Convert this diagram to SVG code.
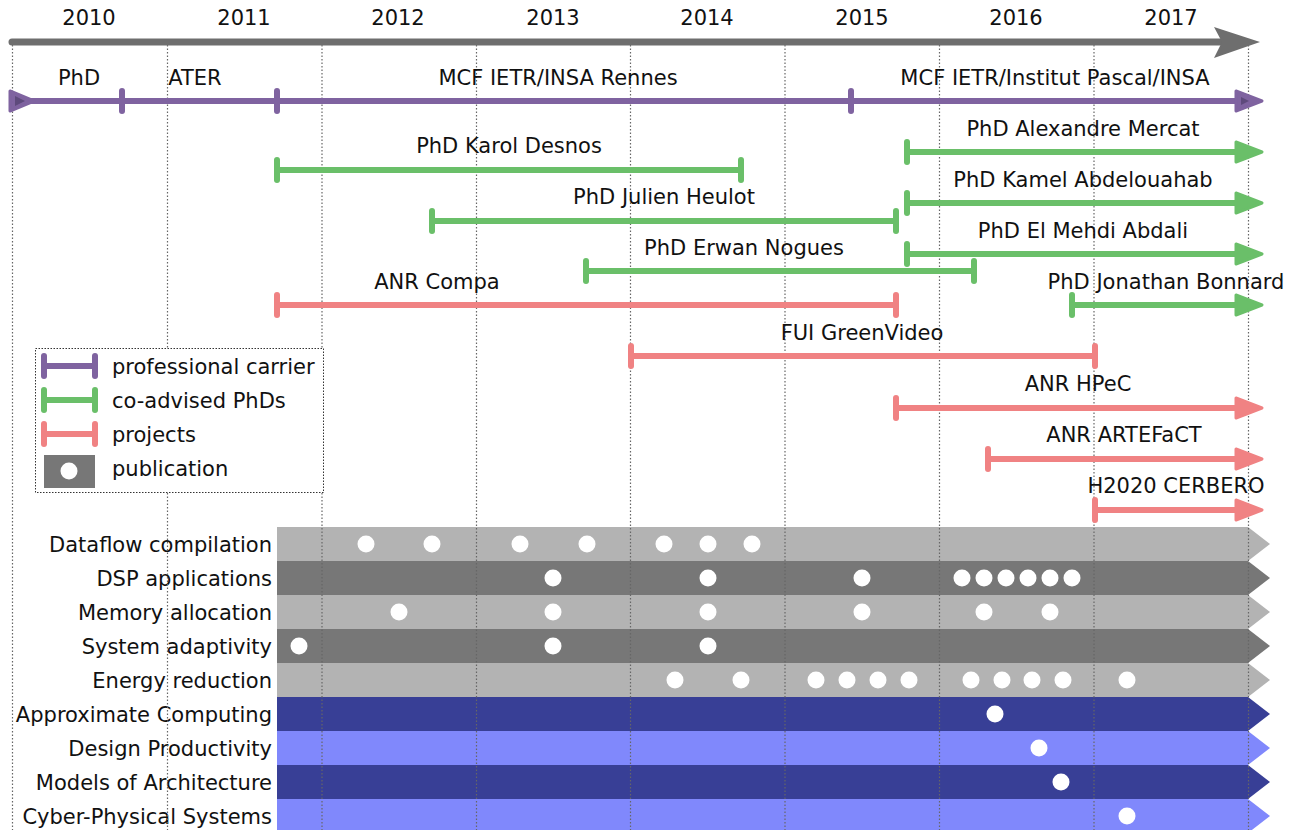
<svg xmlns="http://www.w3.org/2000/svg" xmlns:xlink="http://www.w3.org/1999/xlink" width="1297" height="830" viewBox="0 0 1297 830">
<style>
text{font-family:"DejaVu Sans","Liberation Sans",sans-serif;font-size:21px;fill:#111}
.c{text-anchor:middle}
.r{text-anchor:end}
.grid{stroke:#666;stroke-width:1.2;stroke-dasharray:1.5 2}
.pu{stroke:#7f63a0;fill:#7f63a0}
.gr{stroke:#6abf69;fill:#6abf69}
.rd{stroke:#f08283;fill:#f08283}
.bar{stroke-width:6;stroke-linecap:round;fill:none}
.tk{stroke-width:6;stroke-linecap:round}
.ah{stroke-width:3;stroke-linejoin:round}
.dot{fill:#fff}
.b1{fill:#b3b3b3}.b2{fill:#777}.b3{fill:#383f96}.b4{fill:#8088fc}
</style>
<defs>
<path id="ah" d="M-26,-10 L0,0 L-26,10 Z"/>
<path id="tick" d="M0,-10 L0,10"/>
<path id="band" d="M0,0 H971 L993,17 L971,34 H0 Z"/>
<circle id="d" r="8.5"/>
</defs>
<rect width="1297" height="830" fill="#fff"/>

<g id="bands">
<use href="#band" x="277" y="527" class="b1"/>
<use href="#band" x="277" y="561" class="b2"/>
<use href="#band" x="277" y="595" class="b1"/>
<use href="#band" x="277" y="629" class="b2"/>
<use href="#band" x="277" y="663" class="b1"/>
<use href="#band" x="277" y="697" class="b3"/>
<use href="#band" x="277" y="731" class="b4"/>
<use href="#band" x="277" y="765" class="b3"/>
<use href="#band" x="277" y="799" class="b4"/>
</g>

<g id="band-labels">
<text x="272" y="552" class="r">Dataflow compilation</text>
<text x="272" y="586" class="r">DSP applications</text>
<text x="272" y="620" class="r">Memory allocation</text>
<text x="272" y="654" class="r">System adaptivity</text>
<text x="272" y="688" class="r">Energy reduction</text>
<text x="272" y="722" class="r">Approximate Computing</text>
<text x="272" y="756" class="r">Design Productivity</text>
<text x="272" y="790" class="r">Models of Architecture</text>
<text x="272" y="824" class="r">Cyber-Physical Systems</text>
</g>

<g id="publications" class="dot">
<use href="#d" x="366" y="544"/><use href="#d" x="432" y="544"/><use href="#d" x="520" y="544"/><use href="#d" x="587" y="544"/><use href="#d" x="664" y="544"/><use href="#d" x="708" y="544"/><use href="#d" x="752" y="544"/>
<use href="#d" x="553" y="578"/><use href="#d" x="708" y="578"/><use href="#d" x="862" y="578"/><use href="#d" x="962" y="578"/><use href="#d" x="984" y="578"/><use href="#d" x="1006" y="578"/><use href="#d" x="1028" y="578"/><use href="#d" x="1050" y="578"/><use href="#d" x="1072" y="578"/>
<use href="#d" x="399" y="612"/><use href="#d" x="553" y="612"/><use href="#d" x="708" y="612"/><use href="#d" x="862" y="612"/><use href="#d" x="984" y="612"/><use href="#d" x="1050" y="612"/>
<use href="#d" x="299" y="646"/><use href="#d" x="553" y="646"/><use href="#d" x="708" y="646"/>
<use href="#d" x="675" y="680"/><use href="#d" x="741" y="680"/><use href="#d" x="816" y="680"/><use href="#d" x="847" y="680"/><use href="#d" x="878" y="680"/><use href="#d" x="909" y="680"/><use href="#d" x="971" y="680"/><use href="#d" x="1002" y="680"/><use href="#d" x="1032" y="680"/><use href="#d" x="1063" y="680"/><use href="#d" x="1127" y="680"/>
<use href="#d" x="995" y="714"/>
<use href="#d" x="1039" y="748"/>
<use href="#d" x="1061" y="782"/>
<use href="#d" x="1127" y="816"/>
</g>

<g id="grid">
<line x1="12.5" y1="45" x2="12.5" y2="830" class="grid"/>
<line x1="167.5" y1="45" x2="167.5" y2="830" class="grid"/>
<line x1="322" y1="45" x2="322" y2="830" class="grid"/>
<line x1="476.5" y1="45" x2="476.5" y2="830" class="grid"/>
<line x1="630.5" y1="45" x2="630.5" y2="830" class="grid"/>
<line x1="785" y1="45" x2="785" y2="830" class="grid"/>
<line x1="939.5" y1="45" x2="939.5" y2="830" class="grid"/>
<line x1="1094" y1="45" x2="1094" y2="830" class="grid"/>
<line x1="1248.5" y1="45" x2="1248.5" y2="830" class="grid"/>
</g>

<g id="axis">
<line x1="12" y1="42" x2="1222" y2="42" stroke="#6e6e6e" stroke-width="7" stroke-linecap="round"/>
<path d="M1214,27 L1260,42 L1214,58 L1222,42 Z" fill="#6e6e6e"/>
<text x="89" y="25" class="c">2010</text>
<text x="244" y="25" class="c">2011</text>
<text x="398" y="25" class="c">2012</text>
<text x="553" y="25" class="c">2013</text>
<text x="707" y="25" class="c">2014</text>
<text x="862" y="25" class="c">2015</text>
<text x="1016" y="25" class="c">2016</text>
<text x="1171" y="25" class="c">2017</text>
</g>

<g id="career">
<line x1="20" y1="101" x2="1240" y2="101" class="pu bar"/>
<path d="M10,91 L34,101 L10,111 Z" class="pu ah"/>
<path d="M15,96 L25,101 L15,106 Z" fill="#5e4a7c"/>
<use href="#tick" x="122" y="101" class="pu tk"/>
<use href="#tick" x="277" y="101" class="pu tk"/>
<use href="#tick" x="851" y="101" class="pu tk"/>
<use href="#ah" x="1262" y="101" class="pu ah"/>
<path d="M1241,97 L1249,101 L1241,105 Z" fill="#5e4a7c"/>
<text x="79" y="85" class="c">PhD</text>
<text x="195" y="85" class="c">ATER</text>
<text x="558" y="85" class="c">MCF IETR/INSA Rennes</text>
<text x="1055" y="85" class="c">MCF IETR/Institut Pascal/INSA</text>
</g>

<g id="phd-desnos">
<line x1="277" y1="170" x2="741" y2="170" class="gr bar"/>
<use href="#tick" x="277" y="170" class="gr tk"/><use href="#tick" x="741" y="170" class="gr tk"/>
<text x="509" y="153" class="c">PhD Karol Desnos</text>
</g>
<g id="phd-heulot">
<line x1="432" y1="221" x2="896" y2="221" class="gr bar"/>
<use href="#tick" x="432" y="221" class="gr tk"/><use href="#tick" x="896" y="221" class="gr tk"/>
<text x="664" y="204" class="c">PhD Julien Heulot</text>
</g>
<g id="phd-nogues">
<line x1="586" y1="271" x2="974" y2="271" class="gr bar"/>
<use href="#tick" x="586" y="271" class="gr tk"/><use href="#tick" x="974" y="271" class="gr tk"/>
<text x="744" y="255" class="c">PhD Erwan Nogues</text>
</g>
<g id="phd-mercat">
<line x1="907" y1="152" x2="1240" y2="152" class="gr bar"/>
<use href="#tick" x="907" y="152" class="gr tk"/><use href="#ah" x="1262" y="152" class="gr ah"/>
<text x="1083" y="136" class="c">PhD Alexandre Mercat</text>
</g>
<g id="phd-abdelouahab">
<line x1="907" y1="203" x2="1240" y2="203" class="gr bar"/>
<use href="#tick" x="907" y="203" class="gr tk"/><use href="#ah" x="1262" y="203" class="gr ah"/>
<text x="1083" y="187" class="c">PhD Kamel Abdelouahab</text>
</g>
<g id="phd-abdali">
<line x1="907" y1="254" x2="1240" y2="254" class="gr bar"/>
<use href="#tick" x="907" y="254" class="gr tk"/><use href="#ah" x="1262" y="254" class="gr ah"/>
<text x="1083" y="238" class="c">PhD El Mehdi Abdali</text>
</g>
<g id="phd-bonnard">
<line x1="1072" y1="305" x2="1240" y2="305" class="gr bar"/>
<use href="#tick" x="1072" y="305" class="gr tk"/><use href="#ah" x="1262" y="305" class="gr ah"/>
<text x="1166" y="289" class="c">PhD Jonathan Bonnard</text>
</g>

<g id="anr-compa">
<line x1="277" y1="305" x2="896" y2="305" class="rd bar"/>
<use href="#tick" x="277" y="305" class="rd tk"/><use href="#tick" x="896" y="305" class="rd tk"/>
<text x="437" y="289" class="c">ANR Compa</text>
</g>
<g id="fui-greenvideo">
<line x1="631" y1="356" x2="1095" y2="356" class="rd bar"/>
<use href="#tick" x="631" y="356" class="rd tk"/><use href="#tick" x="1095" y="356" class="rd tk"/>
<text x="862" y="340" class="c">FUI GreenVideo</text>
</g>
<g id="anr-hpec">
<line x1="896" y1="408" x2="1240" y2="408" class="rd bar"/>
<use href="#tick" x="896" y="408" class="rd tk"/><use href="#ah" x="1262" y="408" class="rd ah"/>
<text x="1078" y="391" class="c">ANR HPeC</text>
</g>
<g id="anr-artefact">
<line x1="988" y1="459" x2="1240" y2="459" class="rd bar"/>
<use href="#tick" x="988" y="459" class="rd tk"/><use href="#ah" x="1262" y="459" class="rd ah"/>
<text x="1124" y="442" class="c">ANR ARTEFaCT</text>
</g>
<g id="h2020-cerbero">
<line x1="1095" y1="510" x2="1240" y2="510" class="rd bar"/>
<use href="#tick" x="1095" y="510" class="rd tk"/><use href="#ah" x="1262" y="510" class="rd ah"/>
<text x="1176" y="493" class="c">H2020 CERBERO</text>
</g>

<g id="legend">
<rect x="35.5" y="348.5" width="288" height="144" fill="#fff" stroke="#333" stroke-width="1" stroke-dasharray="1.5 1.5"/>
<line x1="44" y1="366" x2="95" y2="366" class="pu bar"/>
<use href="#tick" x="44" y="366" class="pu tk"/><use href="#tick" x="95" y="366" class="pu tk"/>
<text x="112" y="374">professional carrier</text>
<line x1="44" y1="400" x2="95" y2="400" class="gr bar"/>
<use href="#tick" x="44" y="400" class="gr tk"/><use href="#tick" x="95" y="400" class="gr tk"/>
<text x="112" y="408">co-advised PhDs</text>
<line x1="44" y1="434" x2="95" y2="434" class="rd bar"/>
<use href="#tick" x="44" y="434" class="rd tk"/><use href="#tick" x="95" y="434" class="rd tk"/>
<text x="112" y="442">projects</text>
<rect x="44" y="455" width="51" height="33" class="b2"/>
<circle cx="69" cy="471" r="8.5" class="dot"/>
<text x="112" y="476">publication</text>
</g>
</svg>
